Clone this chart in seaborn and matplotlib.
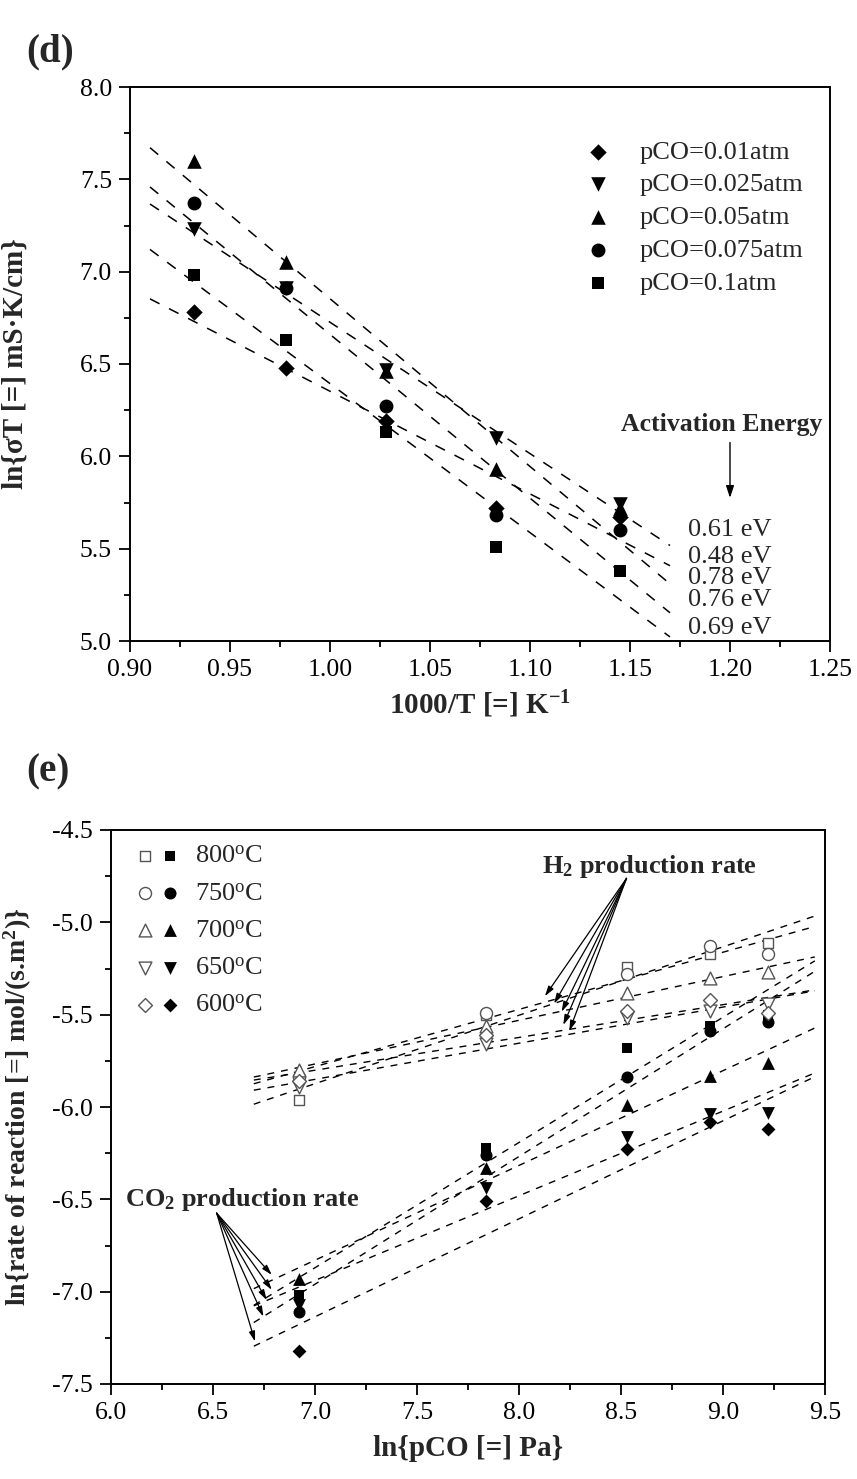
import numpy as np
import matplotlib
matplotlib.use("Agg")
import matplotlib.pyplot as plt
from matplotlib.ticker import MultipleLocator, FormatStrFormatter
from matplotlib.legend_handler import HandlerTuple
import seaborn as sns

sns.set_theme(style="ticks")
plt.rcParams["font.family"] = ["Liberation Serif", "DejaVu Serif"]
plt.rcParams["mathtext.fontset"] = "custom"
plt.rcParams["mathtext.rm"] = "Liberation Serif"
plt.rcParams["mathtext.bf"] = "Liberation Serif:bold"
plt.rcParams["mathtext.it"] = "Liberation Serif:italic"
plt.rcParams["axes.unicode_minus"] = False
plt.rcParams["axes.edgecolor"] = "black"
plt.rcParams["xtick.color"] = "black"
plt.rcParams["ytick.color"] = "black"

# ---- (d) ln(sigma*T) vs 1000/T ----
inv_T = [0.932, 0.978, 1.028, 1.083, 1.145]
pco_labels = ["pCO=0.01atm", "pCO=0.025atm", "pCO=0.05atm",
              "pCO=0.075atm", "pCO=0.1atm"]
ln_sT_001 = [6.78, 6.48, 6.19, 5.72, 5.67]
ln_sT_0025 = [7.23, 6.91, 6.47, 6.10, 5.74]
ln_sT_005 = [7.60, 7.05, 6.46, 5.93, 5.72]
ln_sT_0075 = [7.37, 6.91, 6.27, 5.68, 5.60]
ln_sT_01 = [6.98, 6.63, 6.13, 5.51, 5.38]
ea_labels = ["0.61 eV", "0.48 eV", "0.78 eV", "0.76 eV", "0.69 eV"]
ea_label_y = [5.60, 5.455, 5.34, 5.22, 5.07]

# ---- (e) ln(rate) vs ln(pCO) ----
ln_pco = [6.92, 7.837, 8.53, 8.936, 9.223]
temp_labels = ["800$^{\\rm o}$C", "750$^{\\rm o}$C", "700$^{\\rm o}$C",
               "650$^{\\rm o}$C", "600$^{\\rm o}$C"]
h2_800 = [-5.96, -5.50, -5.24, -5.17, -5.11]
h2_750 = [-5.84, -5.49, -5.28, -5.13, -5.17]
h2_700 = [-5.80, -5.56, -5.38, -5.30, -5.27]
h2_650 = [-5.89, -5.66, -5.52, -5.48, -5.44]
h2_600 = [-5.86, -5.61, -5.48, -5.42, -5.49]
co2_800 = [-7.02, -6.22, -5.68, -5.56, -5.50]
co2_750 = [-7.11, -6.26, -5.84, -5.59, -5.54]
co2_700 = [-6.93, -6.33, -5.99, -5.83, -5.76]
co2_650 = [-7.07, -6.44, -6.16, -6.04, -6.03]
co2_600 = [-7.32, -6.51, -6.23, -6.08, -6.12]

fig = plt.figure(figsize=(8.57, 14.79), dpi=100)
ax1 = fig.add_axes([130 / 857, 1 - 641 / 1479, 700 / 857, 554 / 1479])
ax2 = fig.add_axes([111 / 857, 1 - 1384 / 1479, 714 / 857, 554 / 1479])


def style_axes(ax, xmaj, xmin, ymaj, ymin, xfmt, yfmt):
    ax.xaxis.set_major_locator(MultipleLocator(xmaj))
    ax.xaxis.set_minor_locator(MultipleLocator(xmin))
    ax.yaxis.set_major_locator(MultipleLocator(ymaj))
    ax.yaxis.set_minor_locator(MultipleLocator(ymin))
    ax.xaxis.set_major_formatter(FormatStrFormatter(xfmt))
    ax.yaxis.set_major_formatter(FormatStrFormatter(yfmt))
    ax.tick_params(which="major", direction="out", length=8, width=1.3,
                   labelsize=18.5, top=False, right=False, pad=5)
    ax.tick_params(which="minor", direction="out", length=4.5, width=1.3,
                   top=False, right=False)
    for sp in ax.spines.values():
        sp.set_visible(True)
        sp.set_linewidth(1.4)
        sp.set_color("black")


# panel (d)
series_d = [ln_sT_001, ln_sT_0025, ln_sT_005, ln_sT_0075, ln_sT_01]
markers_d = ["D", "v", "^", "o", "s"]
sizes_d = [70, 110, 110, 100, 80]
fit_x = np.array([0.91, 1.17])
for ys, m, s, lab in zip(series_d, markers_d, sizes_d, pco_labels):
    sns.scatterplot(x=inv_T, y=ys, marker=m, s=s, color="black",
                    edgecolor="black", linewidth=0, ax=ax1, label=lab, zorder=3)
    p = np.polyfit(inv_T, ys, 1)
    ax1.plot(fit_x, np.polyval(p, fit_x), color="black", lw=1.1,
             dashes=(7, 7), zorder=2)

ax1.set_xlim(0.90, 1.25)
ax1.set_ylim(5.0, 8.0)
style_axes(ax1, 0.05, 0.025, 0.5, 0.25, "%.2f", "%.1f")
ax1.set_xlabel("1000/T [=] K$^{\\mathbf{-1}}$", fontsize=21, weight="bold")
ax1.set_ylabel("ln{σT [=] mS·K/cm}", fontsize=21, weight="bold")
ax1.xaxis.set_label_coords(0.5, -0.085)
ax1.yaxis.set_label_coords(-0.145, 0.5)
ax1.legend(loc="upper left", bbox_to_anchor=(0.616, 0.923), frameon=False,
           fontsize=19, handletextpad=0.55, labelspacing=0.35,
           borderaxespad=0, markerscale=1.0)

ax1.text(1.196, 6.17, "Activation Energy", ha="center", va="center",
         fontsize=18.5, weight="bold")
ax1.annotate("", xy=(1.2, 5.76), xytext=(1.2, 6.09),
             arrowprops=dict(arrowstyle="-|>,head_length=0.6,head_width=0.2",
                             color="black", lw=1))
for lab, yv in zip(ea_labels, ea_label_y):
    ax1.text(1.179, yv, lab, ha="left", va="center", fontsize=19)

fig.text(50 / 857, 1 - 52 / 1479, "(d)", ha="center", va="center",
         fontsize=28, weight="bold")

# panel (e)
h2_series = [h2_800, h2_750, h2_700, h2_650, h2_600]
co2_series = [co2_800, co2_750, co2_700, co2_650, co2_600]
markers_e = ["s", "o", "^", "v", "D"]
sizes_e = [60, 75, 85, 85, 50]
line_x = np.array([6.7, 9.45])
open_handles, filled_handles = [], []
for ys, m, s in zip(co2_series, markers_e, sizes_e):
    sns.scatterplot(x=ln_pco, y=ys, marker=m, s=s, color="black",
                    edgecolor="black", linewidth=0, ax=ax2, zorder=3)
    filled_handles.append(ax2.collections[-1])
    p = np.polyfit(ln_pco, ys, 1)
    ax2.plot(line_x, np.polyval(p, line_x), color="black", lw=1.0,
             dashes=(5, 5), zorder=2)
for ys, m, s in zip(h2_series, markers_e, sizes_e):
    sns.scatterplot(x=ln_pco, y=ys, marker=m, s=s, color="white",
                    edgecolor="#555555", linewidth=1.0, ax=ax2, zorder=4)
    open_handles.append(ax2.collections[-1])
    p = np.polyfit(ln_pco, ys, 1)
    ax2.plot(line_x, np.polyval(p, line_x), color="black", lw=1.0,
             dashes=(5, 5), zorder=2)

ax2.set_xlim(6.0, 9.5)
ax2.set_ylim(-7.5, -4.5)
style_axes(ax2, 0.5, 0.25, 0.5, 0.25, "%.1f", "%.1f")
ax2.set_xlabel("ln{pCO [=] Pa}", fontsize=21, weight="bold")
ax2.set_ylabel("ln{rate of reaction [=] mol/(s.m$^{\\mathbf{2}}$)}",
               fontsize=20, weight="bold")
ax2.xaxis.set_label_coords(0.5, -0.092)
ax2.yaxis.set_label_coords(-0.108, 0.5)
ax2.legend(handles=list(zip(open_handles, filled_handles)), labels=temp_labels,
           handler_map={tuple: HandlerTuple(ndivide=None, pad=0.4)},
           loc="upper left", bbox_to_anchor=(0.022, 0.993), frameon=False,
           fontsize=19, handlelength=1.5, handletextpad=0.7,
           labelspacing=0.52, borderaxespad=0)

# H2 arrows
h2_tail = (8.527, -4.762)
h2_heads = [(8.127, -5.40), (8.172, -5.44), (8.209, -5.484),
            (8.217, -5.556), (8.247, -5.587)]
ax2.text(8.642, -4.70, "H$_\\mathbf{2}$ production rate", ha="center",
         va="center", fontsize=19, weight="bold")
for hx, hy in h2_heads:
    ax2.annotate("", xy=(hx, hy), xytext=h2_tail,
                 arrowprops=dict(arrowstyle="-|>,head_length=0.5,head_width=0.15",
                                 color="black", lw=0.9, shrinkA=0, shrinkB=0))

# CO2 arrows
co2_tail = (6.518, -6.575)
co2_heads = [(6.788, -6.909), (6.788, -6.99), (6.763, -7.045),
             (6.747, -7.135), (6.706, -7.27)]
ax2.text(6.64, -6.50, "CO$_\\mathbf{2}$ production rate", ha="center",
         va="center", fontsize=19, weight="bold")
for hx, hy in co2_heads:
    ax2.annotate("", xy=(hx, hy), xytext=co2_tail,
                 arrowprops=dict(arrowstyle="-|>,head_length=0.5,head_width=0.15",
                                 color="black", lw=0.9, shrinkA=0, shrinkB=0))

fig.text(48 / 857, 1 - 772 / 1479, "(e)", ha="center", va="center",
         fontsize=28, weight="bold")

fig.savefig("out.png", dpi=100)
plt.close(fig)
